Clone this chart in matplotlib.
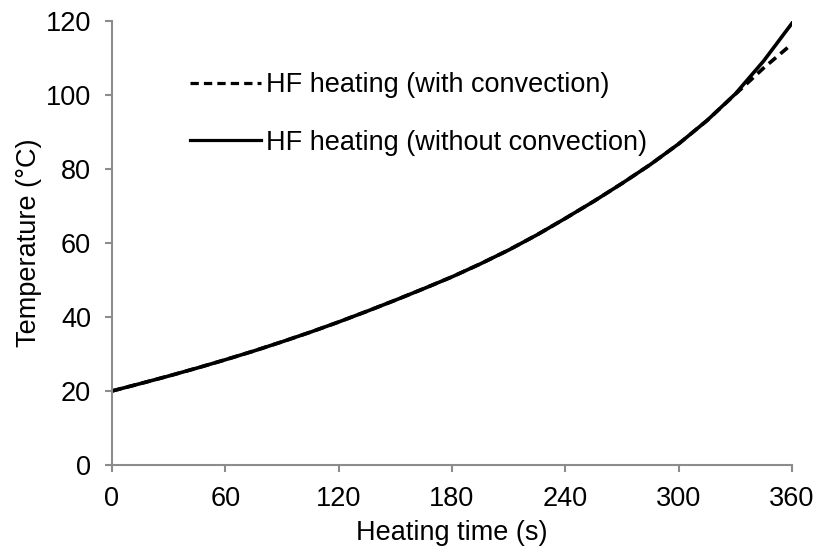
import numpy as np
import matplotlib
matplotlib.use("Agg")
import matplotlib.pyplot as plt

plt.rcParams['font.family'] = ['Liberation Sans', 'DejaVu Sans']

# heating time (s) and temperature (C)
t_solid = [0, 15, 30, 45, 60, 75, 90, 105, 120, 135, 150, 165, 180, 195, 210,
           225, 240, 255, 270, 285, 300, 315, 330, 345, 360]
T_solid = [20.0, 22.0, 24.05, 26.2, 28.45, 30.8, 33.3, 35.9, 38.65, 41.55,
           44.55, 47.65, 50.85, 54.35, 58.1, 62.2, 66.65, 71.25, 76.1, 81.2,
           86.8, 93.1, 100.3, 109.2, 119.4]

t_dash = [0, 15, 30, 45, 60, 75, 90, 105, 120, 135, 150, 165, 180, 195, 210,
          225, 240, 255, 270, 285, 300, 315, 330, 345, 360]
T_dash = [20.0, 22.0, 24.05, 26.2, 28.45, 30.8, 33.3, 35.9, 38.65, 41.55,
          44.55, 47.65, 50.85, 54.35, 58.1, 62.2, 66.65, 71.25, 76.1, 81.2,
          86.8, 93.1, 100.2, 107.3, 113.8]

lab_dash = "HF heating (with convection)"
lab_solid = "HF heating (without convection)"

fs = 19.5

fig = plt.figure(figsize=(8.15, 5.52), dpi=100)
ax = fig.add_axes([0.1374, 0.1576, 0.8344, 0.8044])

ax.plot(t_dash, T_dash, color='black', lw=2.6, ls=(0, (2.6, 1.6)), label=lab_dash)
ax.plot(t_solid, T_solid, color='black', lw=2.6, label=lab_solid)

ax.set_xlim(0, 360)
ax.set_ylim(0, 120)
ax.set_xticks(np.arange(0, 361, 60))
ax.set_yticks(np.arange(0, 121, 20))

for s in ['top', 'right']:
    ax.spines[s].set_visible(False)
for s in ['left', 'bottom']:
    ax.spines[s].set_color('#8c8c8c')
    ax.spines[s].set_linewidth(1.5)
ax.tick_params(axis='both', direction='out', length=5, width=1.5,
               color='#8c8c8c', labelsize=fs, pad=10)

ax.set_xlabel("Heating time (s)", fontsize=fs, labelpad=6)
ax.set_ylabel("Temperature (\u00b0C)", fontsize=fs, labelpad=3)

leg = ax.legend(loc='upper left', bbox_to_anchor=(0.115, 0.884), frameon=False,
                fontsize=fs, handlelength=2.6, handletextpad=0.2,
                labelspacing=1.16, borderaxespad=0, borderpad=0)
for ln in leg.get_lines():
    ln.set_linewidth(2.3)

fig.savefig("out.png", dpi=100)
